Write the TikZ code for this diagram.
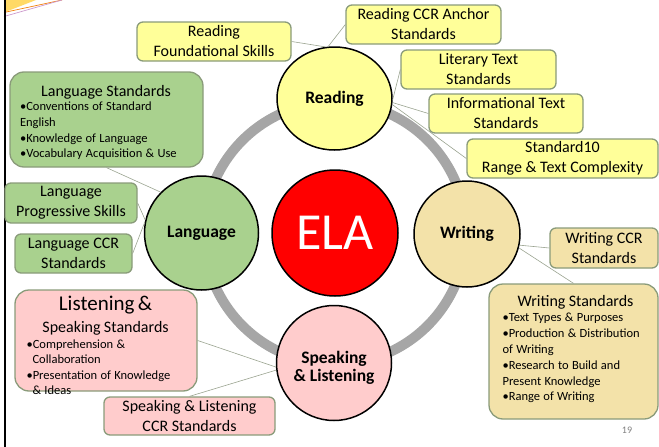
\documentclass[tikz,border=0pt]{standalone}
\usepackage{fontspec}
\setmainfont{Carlito}
\usetikzlibrary{positioning,shapes.geometric}

\definecolor{readfill}{HTML}{FFFF99}
\definecolor{langfill}{HTML}{A9D18E}
\definecolor{writfill}{HTML}{F3E2A9}
\definecolor{spkfill}{HTML}{FFCCCC}
\definecolor{elared}{HTML}{FF0000}
\definecolor{ringgray}{HTML}{A6A6A6}
\definecolor{boxline}{HTML}{8A9B7A}
\definecolor{linkline}{HTML}{9AA390}
\definecolor{swoosh}{HTML}{FFD966}

\tikzset{
  hub/.style={circle, draw=black, line width=1.5pt, inner sep=0pt, align=center,
    font=\bfseries\fontsize{17.5}{17.5}\selectfont},
  smallbox/.style={draw=boxline, line width=1.3pt, rounded corners=6pt, inner sep=0pt,
    align=center, minimum height=39pt, font=\fontsize{16}{20}\selectfont},
  bigbox/.style={draw=boxline, line width=1.3pt, rounded corners=14pt, inner sep=0pt},
  boxtext/.style={inner sep=0pt, anchor=north west},
  link/.style={draw=linkline, line width=0.6pt},
}

\begin{document}
\begin{tikzpicture}[x=1pt,y=-1pt]
\useasboundingbox (0,0) rectangle (659,447);

% slide corner and edge
\fill[swoosh] (4,0) -- (36,0) -- (4,12.5) -- cycle;
\draw[orange!80!brown, line width=0.7pt] (4,12.5) -- (62,0);
\draw[violet!40, line width=0.7pt] (4,16.5) -- (62,0);
\draw[black, line width=2pt] (4.5,0) -- (4.5,447);

% centre and ring
\node[circle, draw=black, line width=1.5pt, fill=elared, minimum size=126pt, inner sep=0pt,
  text=white, font=\fontsize{52}{52}\selectfont] (ela) at (335,233) {ELA};
\draw[ringgray, line width=10pt] (ela.center) circle (131);

% strands
\node[hub, ellipse, fill=readfill, minimum width=115pt, minimum height=103pt] (read) at (334.5,98.5) {Reading};
\node[hub, fill=langfill, minimum size=114pt] (lang) at (201.5,233) {Language};
\node[hub, fill=writfill, minimum size=106pt] (writ) at (467,234) {Writing};
\node[hub, fill=spkfill, minimum size=115pt] (spk) at (334,363) {};
\node[align=center, inner sep=0pt, font=\bfseries\fontsize{17.5}{17.5}\selectfont]
  (spk-text) at ([yshift=-5pt]spk.center) {Speaking\\\& Listening};

% reading boxes
\node[smallbox, fill=readfill, minimum width=154pt] (rfs) at (214,41.5) {Reading\\Foundational Skills};
\node[smallbox, fill=readfill, minimum width=155pt] (rccr) at (423.5,24.5) {Reading CCR Anchor\\Standards};
\node[smallbox, fill=readfill, minimum width=155pt] (lit) at (478.5,69.5) {Literary Text\\Standards};
\node[smallbox, fill=readfill, minimum width=154pt] (info) at (506,113.5) {Informational Text\\Standards};
\node[smallbox, fill=readfill, minimum width=191pt] (std) at (562.5,158.5) {Standard10\\Range \& Text Complexity};

% language boxes
\node[bigbox, fill=langfill, minimum width=193pt, minimum height=95pt] (lstd) at (106.5,119.5) {};
\node[boxtext, text width=172pt, below right=14pt and 10.5pt of lstd.north west] (lstd-text) {%
  \raggedright
  {\centering\fontsize{16}{19}\selectfont Language Standards\par}\vspace{-1.5pt}
  \fontsize{12.5}{15.7}\selectfont
  •Conventions of Standard\\English\par
  •Knowledge of Language\par
  •Vocabulary Acquisition \& Use\par};
\node[smallbox, fill=langfill, minimum width=132pt, minimum height=40pt] (lps) at (71,203) {Language\\Progressive Skills};
\node[smallbox, fill=langfill, minimum width=117pt] (lccr) at (73.5,253.5) {Language CCR\\Standards};

% speaking and listening boxes
\node[bigbox, fill=spkfill, minimum width=182pt, minimum height=101pt] (list) at (106,340.5) {};
\node[boxtext, text width=158pt, below right=6.5pt and 12pt of list.north west] (list-text) {%
  \raggedright
  {\centering\fontsize{21}{22}\selectfont Listening \&\par}
  {\centering\fontsize{16}{22}\selectfont Speaking Standards\par}
  \fontsize{12.5}{15.5}\selectfont
  •Comprehension \&\\\hspace*{6pt}Collaboration\par
  •Presentation of Knowledge\\\hspace*{6pt}\& Ideas\par};
\node[smallbox, fill=spkfill, minimum width=171pt, minimum height=38pt] (slccr) at (189.5,416) {Speaking \& Listening\\CCR Standards};

% writing boxes
\node[smallbox, fill=writfill, minimum width=108pt, minimum height=40pt] (wccr) at (604,248) {Writing CCR\\Standards};
\node[bigbox, fill=writfill, minimum width=169pt, minimum height=135pt] (wstd) at (573.5,351.5) {};
\node[boxtext, text width=146pt, below right=11.5pt and 14pt of wstd.north west] (wstd-text) {%
  \raggedright
  {\centering\fontsize{16}{19}\selectfont Writing Standards\par}
  \fontsize{12.5}{15.8}\selectfont
  •Text Types \& Purposes\par
  •Production \& Distribution\\of Writing\par
  •Research to Build and\\Present Knowledge\par
  •Range of Writing\par};

% links
\draw[link] (rfs.east) -- (read.100);
\draw[link] (rccr.west) -- (read.97);
\draw[link] (lit.west) -- (read.-1);
\draw[link] (info.west) -- (read.-4);
\draw[link] (std.west) -- (read.-6);
\draw[link] (lstd.south) -- (lang.135);
\draw[link] (lps.east) -- (lang.167);
\draw[link] (lccr.east) -- (lang.169);
\draw[link] (list.east) -- (spk.184);
\draw[link] (slccr.north) -- (spk.187);
\draw[link] (wccr.west) -- (writ.-12);
\draw[link] (wstd.north) -- (writ.-15);

\node[text=gray, font=\fontsize{10}{10}\selectfont] (pagenum) at (627,430) {19};
\end{tikzpicture}
\end{document}
